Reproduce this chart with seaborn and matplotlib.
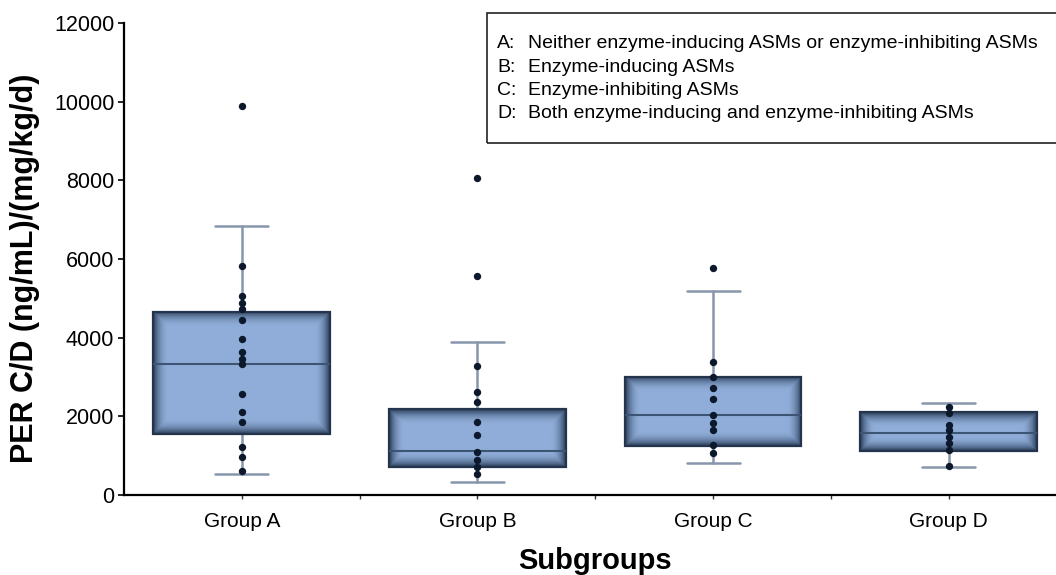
import numpy as np
import pandas as pd
import matplotlib
matplotlib.use("Agg")
import matplotlib.pyplot as plt
from matplotlib.patches import Rectangle
import seaborn as sns

# ---------------- data ----------------
groups = ["Group A", "Group B", "Group C", "Group D"]

# box statistics
q1 = [1545, 720, 1250, 1130]
medians = [3335, 1125, 2045, 1585]
q3 = [4650, 2180, 3010, 2120]
whisker_low = [525, 340, 805, 705]
whisker_high = [6850, 3885, 5175, 2350]

# individual points
points_a = [9900, 5830, 5070, 4880, 4730, 4450, 3970, 3640, 3450, 3330,
            2580, 2100, 1860, 1230, 960, 610]
points_b = [8070, 5570, 3270, 2630, 2370, 1860, 1520, 1090, 890, 710, 530]
points_c = [5780, 3390, 2990, 2720, 2440, 2040, 1820, 1650, 1260, 1060]
points_d = [2250, 2080, 1780, 1640, 1480, 1330, 1150, 740]

y_ticks = [0, 2000, 4000, 6000, 8000, 10000, 12000]

legend_keys = ["A:", "B:", "C:", "D:"]
legend_texts = [
    "Neither enzyme-inducing ASMs or enzyme-inhibiting ASMs",
    "Enzyme-inducing ASMs",
    "Enzyme-inhibiting ASMs",
    "Both enzyme-inducing and enzyme-inhibiting ASMs",
]

x_label = "Subgroups"
y_label = "PER C/D (ng/mL)/(mg/kg/d)"

# ---------------- style ----------------
sns.set_style("white")
plt.rcParams["font.family"] = ["Liberation Sans", "DejaVu Sans"]
plt.rcParams["text.color"] = "black"
plt.rcParams["axes.labelcolor"] = "black"
plt.rcParams["xtick.color"] = "black"
plt.rcParams["ytick.color"] = "black"

W, H, DPI = 1056, 575, 100
fig = plt.figure(figsize=(W / DPI, H / DPI), dpi=DPI)
ax_left, ax_right, ax_top, ax_bottom = 124, 1066.6, 23, 495
ax = fig.add_axes([ax_left / W, (H - ax_bottom) / H,
                   (ax_right - ax_left) / W, (ax_bottom - ax_top) / H])

ax.set_xlim(-0.5, 3.5)
ax.set_ylim(0, 12000)

box_w = 0.75
cap_w = 0.224
light = np.array([0x8f, 0xad, 0xd8]) / 255.0
dark = np.array([0x2c, 0x40, 0x5c]) / 255.0
edge_col = "#23344c"
whisk_col = "#8796ac"
med_col = "#3d5574"

# whiskers & caps via matplotlib bxp (stats given)
stats = []
for i, g in enumerate(groups):
    stats.append(dict(label=g, q1=q1[i], med=medians[i], q3=q3[i],
                      whislo=whisker_low[i], whishi=whisker_high[i], fliers=[]))
ax.bxp(stats, positions=range(len(groups)), widths=box_w,
       capwidths=cap_w, showfliers=False, patch_artist=True,
       boxprops=dict(facecolor="none", edgecolor="none"),
       whiskerprops=dict(color=whisk_col, linewidth=1.8),
       capprops=dict(color=whisk_col, linewidth=1.8),
       medianprops=dict(color="none"),
       zorder=1, manage_ticks=False)

# shaded boxes (dark rim fading to light centre)
fade_px = 15.0
for i in range(len(groups)):
    x0, x1 = i - box_w / 2, i + box_w / 2
    y0, y1 = q1[i], q3[i]
    p0 = ax.transData.transform((x0, y0))
    p1 = ax.transData.transform((x1, y1))
    wpx = abs(p1[0] - p0[0])
    hpx = abs(p1[1] - p0[1])
    nx, ny = int(wpx) + 1, int(hpx) + 1
    xs = np.linspace(0, wpx, nx)
    ys = np.linspace(0, hpx, ny)
    XX, YY = np.meshgrid(xs, ys)
    d = np.minimum(np.minimum(XX, wpx - XX), np.minimum(YY, hpx - YY))
    t = np.clip(d / fade_px, 0, 1)
    t = 1 - (1 - t) ** 2
    img = dark[None, None, :] * (1 - t[..., None]) + light[None, None, :] * t[..., None]
    ax.imshow(img, extent=[x0, x1, y0, y1], origin="lower",
              aspect="auto", interpolation="bilinear", zorder=2)
    ax.add_patch(Rectangle((x0, y0), box_w, y1 - y0, fill=False,
                           edgecolor=edge_col, linewidth=1.6, zorder=3))
    ax.plot([x0, x1], [medians[i], medians[i]], color=med_col,
            linewidth=1.5, zorder=3, solid_capstyle="butt")

ax.set_xlim(-0.5, 3.5)
ax.set_ylim(0, 12000)
ax.set_aspect("auto")

# points
df = pd.DataFrame({
    "group": (["Group A"] * len(points_a) + ["Group B"] * len(points_b)
              + ["Group C"] * len(points_c) + ["Group D"] * len(points_d)),
    "value": points_a + points_b + points_c + points_d,
})
sns.stripplot(data=df, x="group", y="value", order=groups, jitter=False,
              color="#0c182b", size=5.3, linewidth=0, zorder=4, ax=ax)

ax.set_xlim(-0.5, 3.5)
ax.set_ylim(0, 12000)

# axes styling
for s in ["top", "right"]:
    ax.spines[s].set_visible(False)
for s in ["left", "bottom"]:
    ax.spines[s].set_color("black")
    ax.spines[s].set_linewidth(1.6)

ax.set_yticks(y_ticks)
ax.set_yticklabels([str(v) for v in y_ticks], fontsize=15.5)
ax.set_xticks(range(len(groups)))
ax.set_xticklabels(groups, fontsize=15)
ax.set_xticks([0.5, 1.5, 2.5], minor=True)
ax.tick_params(axis="y", which="major", direction="out", length=4,
               width=1.2, color="black", pad=3, left=True)
ax.tick_params(axis="x", which="both", direction="out", length=3,
               width=1.0, color="#333333", pad=9, bottom=True)

ax.set_xlabel(x_label, fontsize=21, fontweight="bold", labelpad=12)
ax.set_ylabel(y_label, fontsize=22, fontweight="bold")
ax.yaxis.set_label_coords((40 - ax_left) / (ax_right - ax_left), 0.48)

# legend-like annotation box
lx0, ly_top, ly_bot = 486.5, 12.5, 142.7
fig.patches.append(Rectangle((lx0 / W, (H - ly_bot) / H), (1070 - lx0) / W,
                             (ly_bot - ly_top) / H, transform=fig.transFigure,
                             fill=False, edgecolor="#222222", linewidth=1.2))
line_y = [44.0, 67.3, 90.6, 114.0]
for k, txt, yy in zip(legend_keys, legend_texts, line_y):
    fig.text(497 / W, (H - yy) / H, k, fontsize=14, va="center", ha="left")
    fig.text(528 / W, (H - yy) / H, txt, fontsize=14, va="center", ha="left")

fig.savefig("out.png", dpi=DPI)
